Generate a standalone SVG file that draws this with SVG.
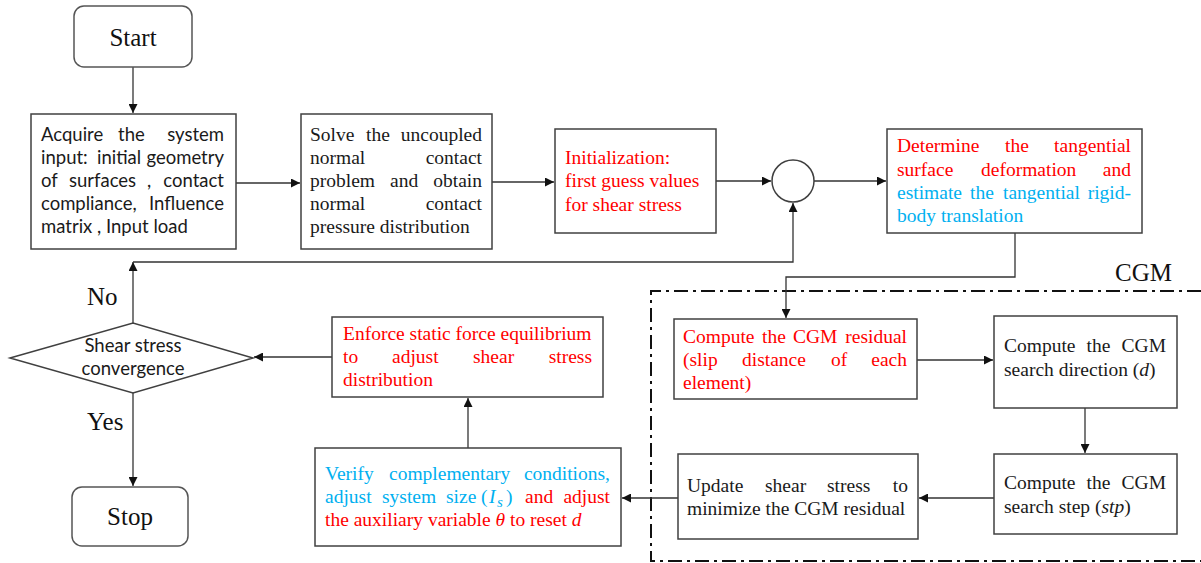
<svg xmlns="http://www.w3.org/2000/svg" width="1201" height="563" viewBox="0 0 1201 563">
<defs>
<marker id="ah" markerUnits="userSpaceOnUse" markerWidth="10" markerHeight="9" refX="9" refY="4.5" orient="auto">
<path d="M0,0 L9,4.5 L0,9 z" fill="#111"/>
</marker>
<style>
.box{fill:#fff;stroke:#404040;stroke-width:1.5}
.term{fill:#fff;stroke:#555;stroke-width:1.5}
.cn{fill:none;stroke:#333;stroke-width:1.3}
.cna{fill:none;stroke:#333;stroke-width:1.3;marker-end:url(#ah)}
.se{font-family:"Liberation Serif","Times New Roman",serif;font-size:19.5px;fill:#1a1a1a}
.sa{font-family:Lato,"Liberation Sans",sans-serif;font-size:18.5px;fill:#1a1a1a}
.r{text-anchor:end}
.m{text-anchor:middle}
.red{fill:#ff0000}
.blue{fill:#00b0f0}
.it{font-style:italic}
.big{font-family:"Liberation Serif","Times New Roman",serif;font-size:25px;fill:#111}
</style>
</defs>
<rect width="1201" height="563" fill="#fff"/>

<g id="cgm-frame">
<path d="M1201,291 H651 V561 H1201" fill="none" stroke="#111" stroke-width="2" stroke-dasharray="14 5 3 5"/>
<text class="big" x="1115" y="281">CGM</text>
</g>

<g id="connectors">
<path class="cna" d="M133,67 V113"/>
<path class="cna" d="M236,183 H300"/>
<path class="cna" d="M492,182 H554"/>
<path class="cna" d="M716,181 H771"/>
<path class="cna" d="M814,181 H886"/>
<path class="cna" d="M1015,233 V277 H786 V318"/>
<path class="cna" d="M917,360 H993"/>
<path class="cna" d="M1085,408 V453"/>
<path class="cna" d="M994,498 H919"/>
<path class="cna" d="M678,498 H622"/>
<path class="cna" d="M468,448 V398"/>
<path class="cna" d="M332,357 H254"/>
<path class="cna" d="M133,393 V486"/>
<path class="cna" d="M133,323 V262"/>
<path class="cna" d="M133,262 H793 V203"/>
<text class="big" x="87" y="305">No</text>
<text class="big" x="87" y="430">Yes</text>
</g>

<g id="start">
<rect class="term" x="74" y="6" width="118" height="61" rx="10"/>
<text class="big m" x="133" y="46">Start</text>
</g>

<g id="acquire">
<rect class="box" x="31" y="114" width="205" height="135"/>
<text class="sa" x="41" y="141">Acquire</text><text class="sa" x="118" y="141">the</text><text class="sa r" x="224" y="141">system</text>
<text class="sa" x="41" y="164">input:</text><text class="sa" x="97" y="164">initial</text><text class="sa r" x="224" y="164">geometry</text>
<text class="sa" x="41" y="187">of</text><text class="sa" x="69" y="187">surfaces</text><text class="sa" x="147" y="187">,</text><text class="sa r" x="224" y="187">contact</text>
<text class="sa" x="41" y="210">compliance,</text><text class="sa r" x="224" y="210">Influence</text>
<text class="sa" x="41" y="233">matrix , Input load</text>
</g>

<g id="solve">
<rect class="box" x="301" y="114" width="191" height="135"/>
<text class="se" x="310" y="141">Solve</text><text class="se" x="366" y="141">the</text><text class="se r" x="482" y="141">uncoupled</text>
<text class="se" x="310" y="164">normal</text><text class="se r" x="482" y="164">contact</text>
<text class="se" x="310" y="187">problem</text><text class="se" x="390" y="187">and</text><text class="se r" x="482" y="187">obtain</text>
<text class="se" x="310" y="210">normal</text><text class="se r" x="482" y="210">contact</text>
<text class="se" x="310" y="233">pressure distribution</text>
</g>

<g id="init">
<rect class="box" x="555" y="129" width="161" height="104"/>
<text class="se red" x="565" y="163.5">Initialization:</text>
<text class="se red" x="565" y="187">first guess values</text>
<text class="se red" x="565" y="210.5">for shear stress</text>
</g>

<g id="junction">
<circle cx="793" cy="181" r="21" fill="#fff" stroke="#404040" stroke-width="1.5"/>
</g>

<g id="determine">
<rect class="box" x="887" y="129" width="255" height="104"/>
<text class="se red" x="897" y="152">Determine</text><text class="se red" x="1005" y="152">the</text><text class="se red r" x="1131" y="152">tangential</text>
<text class="se red" x="897" y="175.5">surface</text><text class="se red" x="981" y="175.5">deformation</text><text class="se red r" x="1131" y="175.5">and</text>
<text class="se blue" x="897" y="199">estimate</text><text class="se blue" x="970" y="199">the</text><text class="se blue" x="1003" y="199">tangential</text><text class="se blue r" x="1131" y="199">rigid-</text>
<text class="se blue" x="897" y="222">body translation</text>
</g>

<g id="residual">
<rect class="box" x="674" y="319" width="243" height="80"/>
<text class="se red" x="683" y="343">Compute</text><text class="se red" x="762" y="343">the</text><text class="se red" x="793" y="343">CGM</text><text class="se red r" x="907" y="343">residual</text>
<text class="se red" x="683" y="366">(slip</text><text class="se red" x="742" y="366">distance</text><text class="se red" x="831" y="366">of</text><text class="se red r" x="907" y="366">each</text>
<text class="se red" x="683" y="389">element)</text>
</g>

<g id="direction">
<rect class="box" x="994" y="316" width="183" height="92"/>
<text class="se" x="1004" y="352">Compute</text><text class="se" x="1086.5" y="352">the</text><text class="se r" x="1166" y="352">CGM</text>
<text class="se" x="1004" y="376">search direction (<tspan class="it">d</tspan>)</text>
</g>

<g id="step">
<rect class="box" x="994" y="454" width="183" height="80"/>
<text class="se" x="1004" y="489">Compute</text><text class="se" x="1086.5" y="489">the</text><text class="se r" x="1166" y="489">CGM</text>
<text class="se" x="1004" y="513">search step (<tspan class="it">stp</tspan>)</text>
</g>

<g id="update">
<rect class="box" x="678" y="454" width="240" height="85"/>
<text class="se" x="687" y="492">Update</text><text class="se" x="765" y="492">shear</text><text class="se" x="827" y="492">stress</text><text class="se r" x="908" y="492">to</text>
<text class="se" x="687" y="515">minimize the CGM residual</text>
</g>

<g id="verify">
<rect class="box" x="315" y="448" width="306" height="98"/>
<text class="se blue" x="325" y="480">Verify</text><text class="se blue" x="389" y="480">complementary</text><text class="se blue r" x="610" y="480">conditions,</text>
<text class="se blue" x="325" y="503">adjust</text><text class="se blue" x="382" y="503">system</text><text class="se blue" x="446" y="503">size</text>
<text class="se blue" y="503"><tspan x="481">(</tspan><tspan class="it" x="489">I</tspan><tspan class="it" x="497" dy="4" font-size="15">s</tspan><tspan x="506" dy="-4">)</tspan></text>
<text class="se red" x="525" y="503">and</text><text class="se red r" x="610" y="503">adjust</text>
<text class="se red" x="325" y="526">the auxiliary variable <tspan class="it">θ</tspan> to reset <tspan class="it">d</tspan></text>
</g>

<g id="enforce">
<rect class="box" x="332" y="317" width="271" height="80"/>
<text class="se red" x="343" y="340">Enforce static force equilibrium</text>
<text class="se red" x="343" y="363">to</text><text class="se red" x="392" y="363">adjust</text><text class="se red" x="473" y="363">shear</text><text class="se red r" x="592" y="363">stress</text>
<text class="se red" x="343" y="386">distribution</text>
</g>

<g id="decision">
<polygon points="10,358 133,323 253,358 133,393" fill="#fff" stroke="#404040" stroke-width="1.5"/>
<text class="sa m" x="133" y="352">Shear stress</text>
<text class="sa m" x="133" y="375">convergence</text>
</g>

<g id="stop">
<rect class="term" x="72" y="487" width="116" height="59" rx="10"/>
<text class="big m" x="130" y="525">Stop</text>
</g>
</svg>
